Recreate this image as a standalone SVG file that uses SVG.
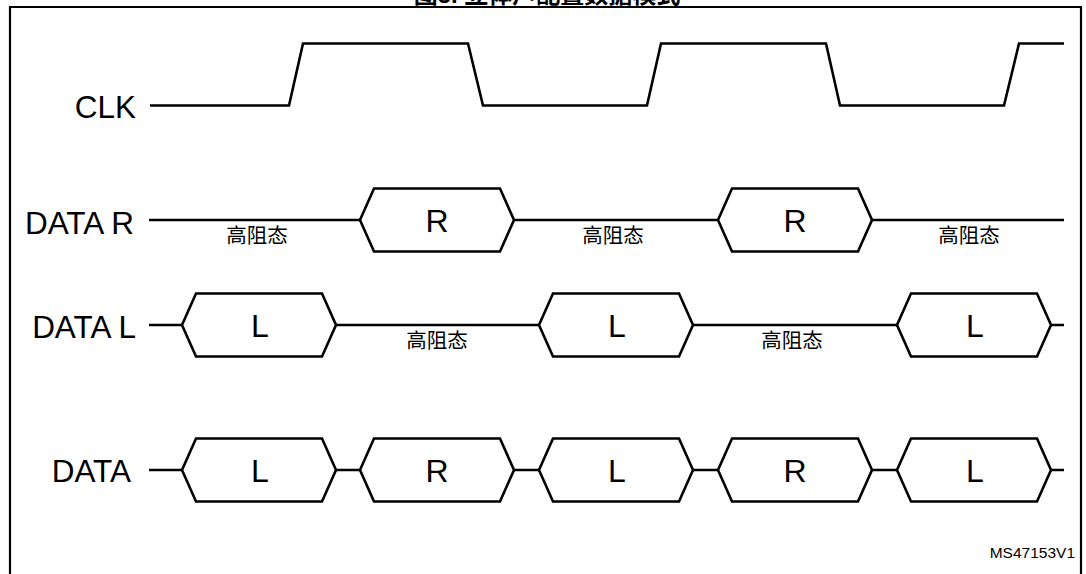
<svg xmlns="http://www.w3.org/2000/svg" xmlns:xlink="http://www.w3.org/1999/xlink" width="1086" height="574" viewBox="0 0 1086 574">
<style>
.frame{fill:none;stroke:#000;stroke-width:2.2}
.wave{fill:none;stroke:#000;stroke-width:2.6;stroke-linejoin:miter}
.hexs{fill:#fff;stroke:#000;stroke-width:2.6;stroke-linejoin:miter}
.lbl{font-family:"Liberation Sans",Arial,sans-serif;font-size:31.5px;fill:#000;text-anchor:end}
.val{font-family:"Liberation Sans",Arial,sans-serif;font-size:32px;fill:#000;text-anchor:middle}
.hz{font-family:"Noto Sans CJK SC","Noto Sans",sans-serif;font-size:20.5px;fill:#000;text-anchor:middle}
.title{font-family:"Liberation Sans","Noto Sans CJK SC",sans-serif;font-size:24px;font-weight:bold;fill:#000;text-anchor:middle}
.id{font-family:"Liberation Sans",Arial,sans-serif;font-size:15.5px;fill:#000;text-anchor:end}
</style>
<defs>
<path id="hex" d="M0,0 L14,-31.5 H140 L154,0 L140,31.5 H14 Z"/>
</defs>
<rect width="1086" height="574" fill="#fff"/>
<text class="title" x="547" y="3">图5. 立体声配置数据模式</text>
<path class="frame" d="M10,576 V7 H1081 V576"/>

<g id="connectors">
<path id="clk-wave" class="wave" d="M150,105.5 H289 L303,43.5 H468 L483,105.5 H647 L661,43.5 H826 L840,105.5 H1004 L1019,43.5 H1064"/>
<path id="datar-wave" class="wave" d="M149,220 H360 M514,220 H718 M872,220 H1064"/>
<path id="datal-wave" class="wave" d="M149,325 H182 M336,325 H539 M693,325 H897 M1051,325 H1064"/>
<path id="data-wave" class="wave" d="M149,470 H182 M336,470 H360 M514,470 H539 M693,470 H718 M872,470 H897 M1051,470 H1064"/>
</g>

<g id="label-clk"><text class="lbl" x="136" y="118">CLK</text></g>
<g id="label-datar"><text class="lbl" x="134" y="234">DATA R</text></g>
<g id="label-datal"><text class="lbl" x="136" y="338">DATA L</text></g>
<g id="label-data"><text class="lbl" x="131" y="482">DATA</text></g>

<g id="datar-hz1"><text class="hz" x="257" y="243">高阻态</text></g>
<g id="datar-r1"><use xlink:href="#hex" href="#hex" class="hexs" x="360" y="220"/><text class="val" x="437" y="232">R</text></g>
<g id="datar-hz2"><text class="hz" x="613" y="243">高阻态</text></g>
<g id="datar-r2"><use xlink:href="#hex" href="#hex" class="hexs" x="718" y="220"/><text class="val" x="795" y="232">R</text></g>
<g id="datar-hz3"><text class="hz" x="969" y="243">高阻态</text></g>

<g id="datal-l1"><use xlink:href="#hex" href="#hex" class="hexs" x="182" y="325"/><text class="val" x="251" y="337" style="text-anchor:start">L</text></g>
<g id="datal-hz1"><text class="hz" x="437" y="348">高阻态</text></g>
<g id="datal-l2"><use xlink:href="#hex" href="#hex" class="hexs" x="539" y="325"/><text class="val" x="608" y="337" style="text-anchor:start">L</text></g>
<g id="datal-hz2"><text class="hz" x="792" y="348">高阻态</text></g>
<g id="datal-l3"><use xlink:href="#hex" href="#hex" class="hexs" x="897" y="325"/><text class="val" x="966" y="337" style="text-anchor:start">L</text></g>

<g id="data-l1"><use xlink:href="#hex" href="#hex" class="hexs" x="182" y="470"/><text class="val" x="251" y="482" style="text-anchor:start">L</text></g>
<g id="data-r1"><use xlink:href="#hex" href="#hex" class="hexs" x="360" y="470"/><text class="val" x="437" y="482">R</text></g>
<g id="data-l2"><use xlink:href="#hex" href="#hex" class="hexs" x="539" y="470"/><text class="val" x="608" y="482" style="text-anchor:start">L</text></g>
<g id="data-r2"><use xlink:href="#hex" href="#hex" class="hexs" x="718" y="470"/><text class="val" x="795" y="482">R</text></g>
<g id="data-l3"><use xlink:href="#hex" href="#hex" class="hexs" x="897" y="470"/><text class="val" x="966" y="482" style="text-anchor:start">L</text></g>

<g id="doc-id"><text class="id" x="1075" y="558">MS47153V1</text></g>
</svg>
